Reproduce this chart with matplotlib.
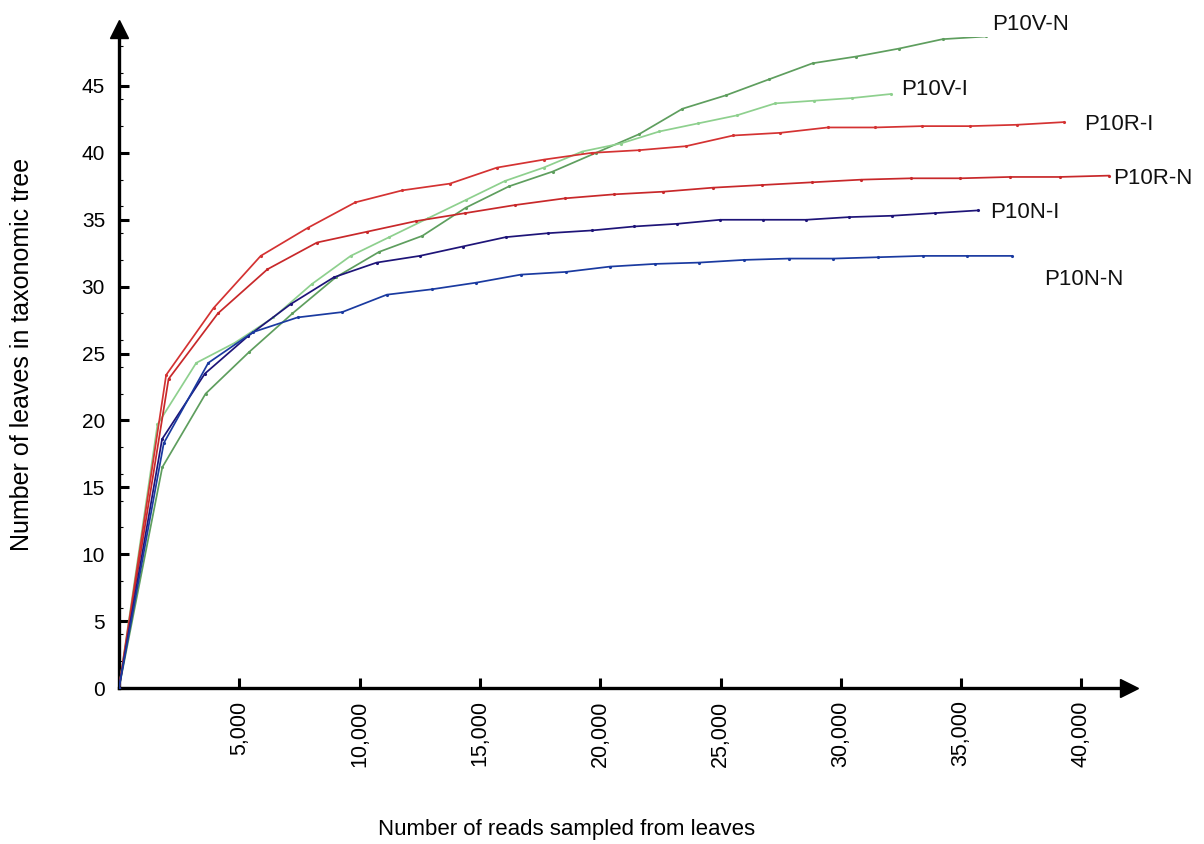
import matplotlib
matplotlib.use("Agg")
import matplotlib.pyplot as plt
import matplotlib.transforms as mtransforms
from matplotlib.ticker import MultipleLocator, FuncFormatter

# ---- data (reads sampled vs. leaves in taxonomic tree) ----
series_names = ["P10V-N", "P10V-I", "P10R-I", "P10R-N", "P10N-I", "P10N-N"]

x_p10v_n = [0, 1800, 3600, 5400, 7210, 9010, 10810, 12610, 14410, 16210, 18020,
            19820, 21620, 23420, 25220, 27020, 28830, 30630, 32430, 34230, 36030]
y_p10v_n = [0, 16.5, 22.0, 25.1, 28.0, 30.7, 32.6, 33.8, 35.9, 37.5, 38.6,
            40.0, 41.4, 43.3, 44.3, 45.5, 46.7, 47.2, 47.8, 48.5, 48.7]

x_p10v_i = [0, 1600, 3210, 4810, 6420, 8020, 9630, 11230, 12830, 14440, 16040,
            17650, 19250, 20850, 22460, 24060, 25670, 27270, 28880, 30480, 32080]
y_p10v_i = [0, 19.7, 24.3, 25.8, 27.7, 30.2, 32.3, 33.7, 35.1, 36.5, 37.9,
            38.9, 40.1, 40.7, 41.6, 42.2, 42.8, 43.7, 43.9, 44.1, 44.4]

x_p10r_i = [0, 1960, 3930, 5890, 7850, 9820, 11780, 13750, 15710, 17670, 19640,
            21600, 23560, 25530, 27490, 29460, 31420, 33380, 35350, 37310, 39270]
y_p10r_i = [0, 23.4, 28.4, 32.3, 34.4, 36.3, 37.2, 37.7, 38.9, 39.5, 40.0,
            40.2, 40.5, 41.3, 41.5, 41.9, 41.9, 42.0, 42.0, 42.1, 42.3]

x_p10r_n = [0, 2060, 4110, 6170, 8230, 10290, 12340, 14400, 16460, 18520, 20570,
            22630, 24690, 26740, 28800, 30860, 32920, 34970, 37030, 39090, 41140]
y_p10r_n = [0, 23.1, 28.0, 31.3, 33.3, 34.1, 34.9, 35.5, 36.1, 36.6, 36.9,
            37.1, 37.4, 37.6, 37.8, 38.0, 38.1, 38.1, 38.2, 38.2, 38.3]

x_p10n_i = [0, 1790, 3570, 5360, 7140, 8930, 10710, 12500, 14280, 16070, 17850,
            19640, 21420, 23210, 24990, 26780, 28560, 30350, 32130, 33920, 35700]
y_p10n_i = [0, 18.6, 23.5, 26.3, 28.7, 30.7, 31.8, 32.3, 33.0, 33.7, 34.0,
            34.2, 34.5, 34.7, 35.0, 35.0, 35.0, 35.2, 35.3, 35.5, 35.7]

x_p10n_n = [0, 1860, 3710, 5570, 7420, 9280, 11130, 12990, 14850, 16700, 18560,
            20410, 22270, 24120, 25980, 27830, 29690, 31550, 33400, 35260, 37110]
y_p10n_n = [0, 18.3, 24.3, 26.6, 27.7, 28.1, 29.4, 29.8, 30.3, 30.9, 31.1,
            31.5, 31.7, 31.8, 32.0, 32.1, 32.1, 32.2, 32.3, 32.3, 32.3]

xs = [x_p10v_n, x_p10v_i, x_p10r_i, x_p10r_n, x_p10n_i, x_p10n_n]
ys = [y_p10v_n, y_p10v_i, y_p10r_i, y_p10r_n, y_p10n_i, y_p10n_n]
colors = ["#5e9e5e", "#8ed08e", "#d43232", "#c8282a", "#1e1478", "#1a3aa0"]

# label placement (data coords: x, y)
label_pos = [(36300, 49.6), (32500, 44.75), (40120, 42.15), (41330, 38.1),
             (36200, 35.55), (38470, 30.5)]

x_ticks = [5000, 10000, 15000, 20000, 25000, 30000, 35000, 40000]
y_ticks = [0, 5, 10, 15, 20, 25, 30, 35, 40, 45]

plt.rcParams['font.family'] = ['Liberation Sans', 'DejaVu Sans']

W, H = 1204, 844
fig = plt.figure(figsize=(W / 100, H / 100), dpi=100)
left_px, right_px, bottom_px, top_px = 119, 1122, 688, 37
ax = fig.add_axes([left_px / W, (H - bottom_px) / H,
                   (right_px - left_px) / W, (bottom_px - top_px) / H])

for xv, yv, c in zip(xs, ys, colors):
    ax.plot(xv, yv, color=c, lw=1.25, marker='.', ms=2.5, zorder=3)

for name, (lx, ly) in zip(series_names, label_pos):
    ax.text(lx, ly, name, fontsize=16, ha='left', va='center', color='#111111')

xmax = (right_px - left_px) * 5000 / 120.3
ymax = (bottom_px - top_px) / 13.378
ax.set_xlim(0, xmax)
ax.set_ylim(0, ymax)

for s in ['top', 'right']:
    ax.spines[s].set_visible(False)
for s in ['left', 'bottom']:
    ax.spines[s].set_linewidth(2.4)
    ax.spines[s].set_color('black')

ax.set_xticks(x_ticks)
ax.xaxis.set_major_formatter(FuncFormatter(lambda v, p: f"{int(v):,}"))
ax.set_yticks(y_ticks)
ax.yaxis.set_minor_locator(MultipleLocator(2))
ax.tick_params(axis='x', direction='in', length=7, width=2.2, labelsize=15.5,
               labelrotation=90, pad=9)
ax.tick_params(axis='y', which='major', direction='in', length=7, width=2.2,
               labelsize=15, pad=10)
ax.tick_params(axis='y', which='minor', direction='in', length=3, width=0.8)

# arrow heads
tr_x = mtransforms.offset_copy(ax.transAxes, fig=fig, x=7, y=0, units='dots')
tr_y = mtransforms.offset_copy(ax.transAxes, fig=fig, x=0, y=8, units='dots')
ax.plot([1], [0], marker='>', ms=12.5, color='black', transform=tr_x,
        clip_on=False, zorder=5)
ax.plot([0], [1], marker='^', ms=12.5, color='black', transform=tr_y,
        clip_on=False, zorder=5)

fig.text(567 / W, 1 - 830 / H, "Number of reads sampled from leaves",
         fontsize=16, ha='center', va='center')
fig.text(22 / W, 1 - 354 / H, "Number of leaves in taxonomic tree",
         fontsize=18, ha='center', va='center', rotation=90)

fig.savefig("out.png", dpi=100)
